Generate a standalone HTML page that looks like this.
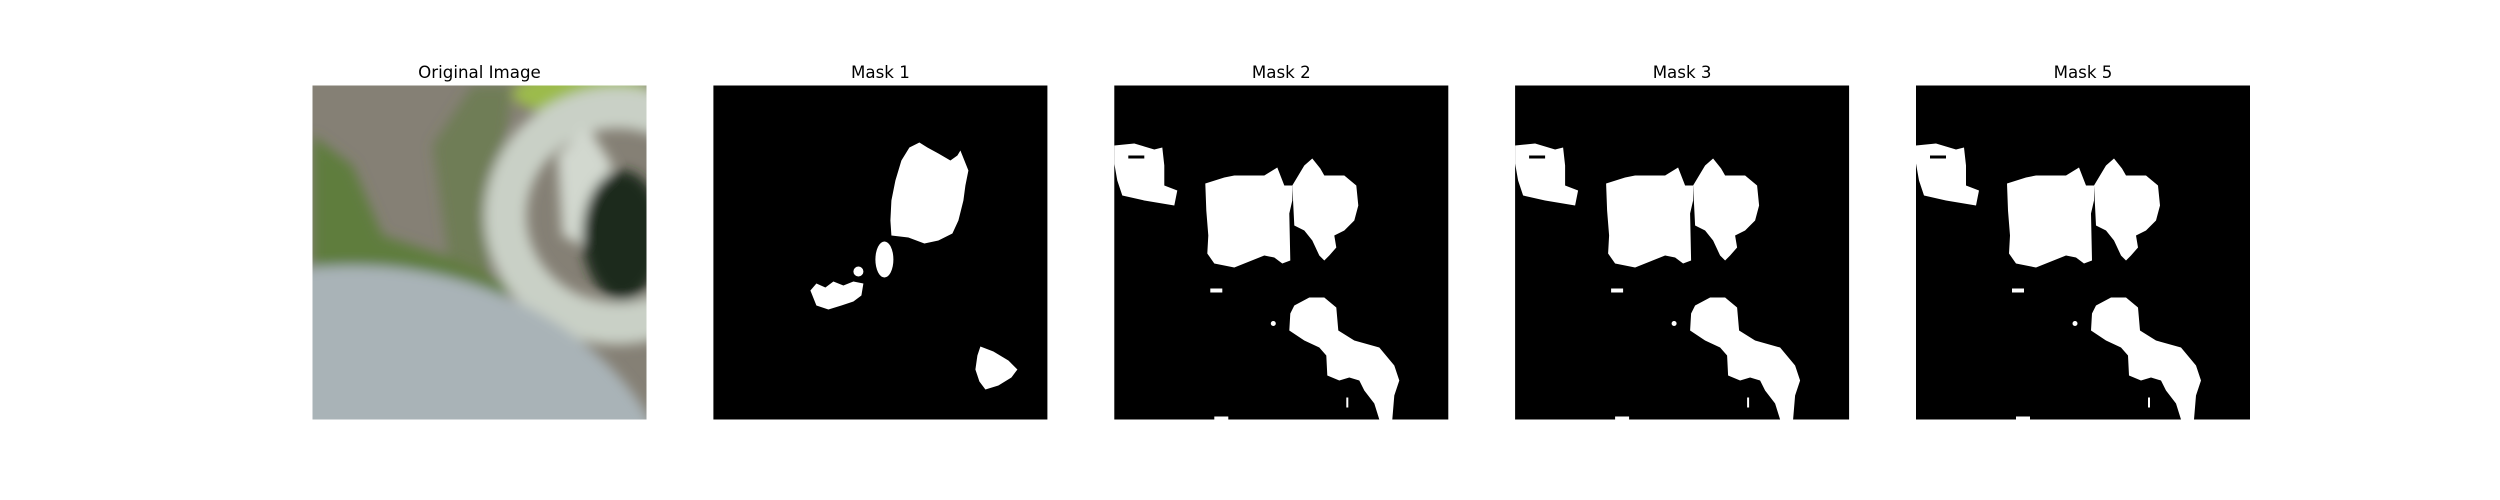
<!DOCTYPE html>
<html><head><meta charset="utf-8"><style>
html,body{margin:0;padding:0;background:#fff;width:2500px;height:500px;overflow:hidden}
svg{display:block;overflow:hidden}
text{font-family:"DejaVu Sans","Liberation Sans",sans-serif;font-size:16.67px;fill:#000}
</style></head><body>
<svg width="2500" height="500" viewBox="0 0 2500 500">
<defs>
<filter id="blur" x="-10%" y="-10%" width="120%" height="120%"><feGaussianBlur stdDeviation="6"/></filter>
<clipPath id="clip0"><rect x="0" y="0" width="334" height="334"/></clipPath>
<g id="maskB">
<rect x="0" y="0" width="334" height="334" fill="#000"/>
<g fill="#fff">
<path d="M0,60 L20,58 40,64 48,62 50,80 50,100 63,105 60,120 30,115 8,110 3,95 0,78 Z"/>
<path d="M91,98 L110,92 120,90 150,90 163,82 170,100 178,100 178,115 175,128 176,175 168,178 160,172 150,170 130,178 120,182 100,178 93,168 94,150 92,125 Z"/>
<path d="M178,100 L190,80 198,73 206,83 210,90 230,90 242,100 244,120 240,135 230,145 220,150 222,162 215,170 210,175 205,170 198,155 190,145 180,140 Z"/>
<path d="M180,220 L195,212 210,212 222,222 224,245 240,255 265,262 280,280 285,295 280,310 278,334 265,334 260,318 250,305 245,295 235,292 225,295 213,290 212,270 205,262 190,255 175,245 176,228 Z"/>
<rect x="96" y="203" width="12" height="4"/>
<circle cx="159" cy="238" r="2.5"/>
<rect x="100" y="331" width="14" height="3"/>
<rect x="232" y="312" width="2" height="10"/>
</g>
<rect x="14" y="70" width="16" height="3" fill="#000"/>
</g>
</defs>

<text x="479.5" y="78" text-anchor="middle">Original Image</text>
<text x="880.4" y="78" text-anchor="middle">Mask 1</text>
<text x="1281.3" y="78" text-anchor="middle">Mask 2</text>
<text x="1682.1" y="78" text-anchor="middle">Mask 3</text>
<text x="2083" y="78" text-anchor="middle">Mask 5</text>

<g transform="translate(312.5,85.5)">
<g clip-path="url(#clip0)">
<rect width="334" height="334" fill="#858075"/>
<g filter="url(#blur)">
<path d="M0,50 L40,80 70,150 130,170 200,200 180,230 0,240 Z" fill="#5f7d3e"/>
<path d="M120,60 L160,0 200,0 175,200 140,200 Z" fill="#607a40" opacity="0.6"/>
<ellipse cx="270" cy="8" rx="70" ry="22" fill="#9cbb4c"/>
<ellipse cx="305" cy="130" rx="112" ry="108" fill="none" stroke="#c9d0c6" stroke-width="42"/>
<path d="M245,70 L275,40 300,80 270,160 250,150 Z" fill="#d2d8cf"/>
<ellipse cx="310" cy="150" rx="40" ry="65" fill="#1c2a1a"/>
<ellipse cx="40" cy="450" rx="330" ry="270" fill="#a9b3b7"/>
</g>
</g>
</g>

<g transform="translate(713.4,85.5)">
<rect width="334" height="334" fill="#000"/>
<g fill="#fff">
<path d="M206,57 L214,62 225,68 237,75 244,70 247,65 255,85 252,100 250,115 245,135 239,148 225,155 211,158 195,152 178,150 177,135 178,115 182,95 188,75 196,62 Z"/>
<ellipse cx="171" cy="174" rx="9" ry="18"/>
<circle cx="145" cy="186" r="5"/>
<path d="M97,205 L103,198 112,202 120,196 130,200 140,196 150,198 148,210 140,216 128,220 115,224 103,220 Z"/>
<path d="M267,261 L280,266 295,275 304,284 298,292 285,300 272,304 266,296 262,284 264,270 Z"/>
</g>
</g>

<use href="#maskB" transform="translate(1114.3,85.5)"/>
<use href="#maskB" transform="translate(1515.1,85.5)"/>
<use href="#maskB" transform="translate(1916,85.5)"/>
</svg>
</body></html>
